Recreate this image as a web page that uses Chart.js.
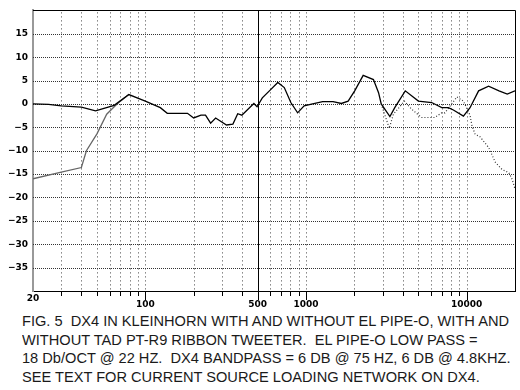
<!DOCTYPE html>
<html>
<head>
<meta charset="utf-8">
<script src="https://cdn.jsdelivr.net/npm/chart.js"></script>
<style>
body{margin:0;background:#fff;width:520px;height:390px;overflow:hidden;position:relative}
#wrap{position:absolute;left:0;top:0;width:520px;height:310px}
.cap{position:absolute;left:22px;font-family:"Liberation Sans",Arial,sans-serif;font-size:14.5px;line-height:18.5px;color:#1a1a1a;white-space:pre;transform-origin:0 0}
</style>
</head>
<body>
<div id="wrap"><canvas id="myChart" width="520" height="310"></canvas></div>
<div class="cap" style="top:312px">FIG. 5  DX4 IN KLEINHORN WITH AND WITHOUT EL PIPE-O, WITH AND</div>
<div class="cap" style="top:330.5px">WITHOUT TAD PT-R9 RIBBON TWEETER.  EL PIPE-O LOW PASS =</div>
<div class="cap" style="top:349px">18 Db/OCT @ 22 HZ.  DX4 BANDPASS = 6 DB @ 75 HZ, 6 DB @ 4.8KHZ.</div>
<div class="cap" style="top:367.5px">SEE TEXT FOR CURRENT SOURCE LOADING NETWORK ON DX4.</div>
<script>
// response with the ribbon tweeter, flat low end
var fullFreq = [20,25,30,40,49,64,79,100,124,137,183,200,222,237,255,274,320,351,376,399,474,496,535,592,668,733,805,887,974,1100,1270,1475,1660,1830,2010,2270,2630,2830,2940,3330,3570,4150,5010,6060,7000,7700,8270,9550,10500,11870,13700,15900,17900,20000];
var fullDb   = [0,-0.1,-0.4,-0.7,-1.5,-0.3,2.0,0.6,-0.8,-2.0,-2.0,-3.0,-2.4,-2.4,-4.1,-3.0,-4.5,-4.3,-2.1,-2.4,0.1,-0.6,1.3,2.8,4.6,3.5,0.3,-1.9,-0.4,0,0.5,0.5,0.1,0.6,2.8,6.1,5.2,2.4,0,-2.7,-0.8,2.8,0.6,0.3,-0.8,-0.8,-1.3,-2.6,-0.8,2.8,3.8,2.8,2.1,2.8];

// low end without EL PIPE-O
var lowFreq = [20,30,40,43,50,57.5,65,70,79];
var lowDb   = [-16,-14.6,-13.6,-10,-6.4,-2.2,-0.4,0.6,2.0];

// top end without the ribbon tweeter
var topFreq = [2940,3300,3500,4100,4540,5240,6330,7000,7330,8700,9550,10500,10800,11300,12100,13700,14000,15100,16600,18300,19200,20000];
var topDb   = [0,-5.2,-2.2,0.6,-1.1,-2.9,-2.9,-1.9,-1.9,1.5,0.6,-2.4,-4.7,-6.5,-7.0,-9.3,-10,-12.5,-14,-14.7,-16.1,-18.2];

var xTicks = [20,30,40,50,60,70,80,90,100,200,300,400,500,600,700,800,900,1000,2000,3000,4000,5000,6000,7000,8000,9000,10000,20000];
var xLabels = [20,100,500,1000,10000];
var majorTicks = [100,500,1000,10000];
var dbTicks = [15,10,5,0,-5,-10,-15,-20,-25,-30,-35];

function pts(f, d){
  var out = [];
  for(var i=0;i<f.length;i++) out.push({x:f[i], y:d[i]});
  return out;
}

var gridPlugin = {
  id: 'dotGrid',
  beforeDatasetsDraw: function(chart){
    var ctx = chart.ctx, a = chart.chartArea, xs = chart.scales.x, ys = chart.scales.y;
    ctx.save();
    ctx.lineWidth = 1;
    // dotted frequency lines
    ctx.strokeStyle = '#444';
    ctx.setLineDash([1,3]);
    ctx.beginPath();
    xTicks.forEach(function(v){
      if(v === 20 || v === 500 || v >= 20000) return;
      var px = Math.round(xs.getPixelForValue(v)) + 0.5;
      ctx.moveTo(px, a.top + 2);
      ctx.lineTo(px, a.bottom);
    });
    ctx.stroke();
    // dotted level lines
    ctx.strokeStyle = '#333';
    ctx.setLineDash([1,1]);
    ctx.beginPath();
    dbTicks.forEach(function(v){
      var py = Math.round(ys.getPixelForValue(v)) + 0.5;
      ctx.moveTo(a.left, py);
      ctx.lineTo(a.right, py);
    });
    ctx.stroke();
    // solid line at 500 Hz
    ctx.setLineDash([]);
    ctx.strokeStyle = '#000';
    var p5 = Math.round(xs.getPixelForValue(500)) + 0.5;
    ctx.beginPath();
    ctx.moveTo(p5, a.top);
    ctx.lineTo(p5, a.bottom);
    ctx.stroke();
    ctx.restore();
  },
  afterDraw: function(chart){
    var ctx = chart.ctx, a = chart.chartArea, xs = chart.scales.x;
    ctx.save();
    ctx.setLineDash([]);
    ctx.strokeStyle = '#000';
    ctx.lineWidth = 1;
    // top and right of the frame
    ctx.beginPath();
    ctx.moveTo(a.left, Math.round(a.top) + 0.5);
    ctx.lineTo(a.right + 0.5, Math.round(a.top) + 0.5);
    ctx.lineTo(a.right + 0.5, a.bottom);
    ctx.stroke();
    // tick marks under the frequency axis
    ctx.beginPath();
    xTicks.forEach(function(v){
      if(v <= 20 || v > 10000) return;
      var px = Math.round(xs.getPixelForValue(v)) + 0.5;
      var len = majorTicks.indexOf(v) >= 0 ? 9 : 5;
      ctx.moveTo(px, a.bottom);
      ctx.lineTo(px, a.bottom + len);
    });
    ctx.stroke();
    ctx.restore();
  }
};

var tickFont = {family:'"DejaVu Sans", sans-serif', size:9, weight:'bold'};

var ch = new Chart(document.getElementById('myChart'), {
  type: 'line',
  data: {
    datasets: [
      {data: pts(fullFreq, fullDb), borderColor:'#000', borderWidth:1.3, order:1},
      {data: pts(lowFreq, lowDb), borderColor:'#666', borderWidth:1.3, order:2},
      {data: pts(topFreq, topDb), borderColor:'#333', borderWidth:1.2, borderDash:[1,2], order:3}
    ]
  },
  options: {
    responsive: false,
    animation: false,
    devicePixelRatio: 1,
    layout: {padding: {top:7.6, right:5, left:0, bottom:0}},
    elements: {point:{radius:0}, line:{tension:0, fill:false}},
    plugins: {legend:{display:false}, tooltip:{enabled:false}},
    scales: {
      x: {
        type: 'logarithmic',
        min: 20, max: 20000,
        afterBuildTicks: function(axis){
          axis.ticks = xTicks.map(function(v){ return {value:v}; });
        },
        afterFit: function(s){ s.height = 19; },
        ticks: {
          autoSkip: false, maxRotation: 0, padding: 3, color: '#000',
          font: function(c){
            var v = c.tick ? c.tick.value : 0;
            return {family:tickFont.family, size:9, weight:'bold', lineHeight: v === 20 ? '10px' : '22px'};
          },
          callback: function(v){ return xLabels.indexOf(v) >= 0 ? String(v) : ''; }
        },
        grid: {display: false, drawTicks: false},
        border: {display: true, color:'#000', width:1}
      },
      y: {
        min: -40, max: 20,
        afterFit: function(s){ s.width = 33; },
        ticks: {
          stepSize: 5, padding: 5, color: '#000', font: tickFont,
          callback: function(v){
            if(v === 20 || v === -40) return '';
            return v < 0 ? '\u2212' + Math.abs(v) : String(v);
          }
        },
        grid: {display: false, drawTicks: false},
        border: {display: true, color:'#999', width:2}
      }
    }
  },
  plugins: [gridPlugin]
});

// squeeze the caption lines to the width of the original figure text
var caps = document.querySelectorAll('.cap');
var k = 487 / caps[0].getBoundingClientRect().width;
for(var i=0;i<caps.length;i++) caps[i].style.transform = 'scaleX(' + k + ')';
</script>
</body>
</html>
